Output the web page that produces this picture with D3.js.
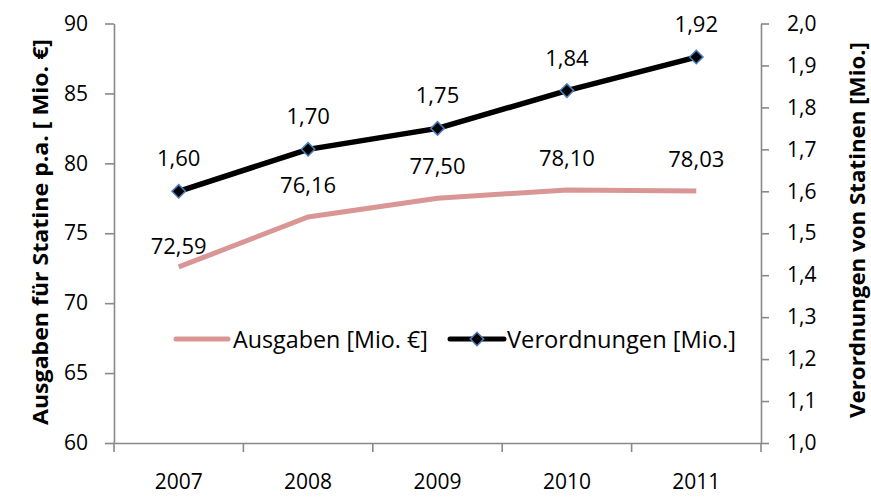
<!DOCTYPE html>
<html>
<head>
<meta charset="utf-8">
<script src="https://cdn.jsdelivr.net/npm/d3@7"></script>
<style>
  body { margin: 0; background: #fff; }
  text { font-family: "Open Sans", sans-serif; }
</style>
</head>
<body>
<div id="chart"></div>
<script>

// ======================= //
// DATA
// ======================= //

var years = ["2007", "2008", "2009", "2010", "2011"]
var ausgaben = [72.59, 76.16, 77.50, 78.10, 78.03]
var verordnungen = [1.60, 1.70, 1.75, 1.84, 1.92]
var leftTicks = [60, 65, 70, 75, 80, 85, 90]
var rightTicks = [1.0, 1.1, 1.2, 1.3, 1.4, 1.5, 1.6, 1.7, 1.8, 1.9, 2.0]
var seriesNames = ["Ausgaben [Mio. €]", "Verordnungen [Mio.]"]

// ======================= //
// SVG, SCALES
// ======================= //

var W = 871, H = 497
var plot = {left: 114, right: 761, top: 23.5, bottom: 443}

var svg = d3.select("#chart")
  .append("svg")
  .attr("width", W)
  .attr("height", H)

var axisGrey = "#898989"
var pink = "#D99694"
var fmt = function(d, n){ return d3.format("." + n + "f")(d).replace(".", ",") }

var x = d3.scaleBand()
  .domain(years)
  .range([plot.left, plot.right])

var yL = d3.scaleLinear()
  .domain([60, 90])
  .range([plot.bottom, plot.top])

var yR = d3.scaleLinear()
  .domain([1, 2])
  .range([plot.bottom, plot.top])

// ======================= //
// AXES
// ======================= //

var leftAxis = svg.append("g")
  .attr("transform", "translate(" + plot.left + ",0)")
  .call(d3.axisLeft(yL).tickValues(leftTicks).tickSize(9).tickPadding(17).tickSizeOuter(0))

var rightAxis = svg.append("g")
  .attr("transform", "translate(" + plot.right + ",0)")
  .call(d3.axisRight(yR).tickValues(rightTicks).tickSize(8).tickPadding(18).tickSizeOuter(0)
    .tickFormat(function(d){ return fmt(d, 1) }))

var bottomAxis = svg.append("g")
  .attr("transform", "translate(0," + plot.bottom + ")")
  .call(d3.axisBottom(x).tickSize(0).tickPadding(31).tickSizeOuter(0))

// tick marks between the categories
var edges = years.map(function(d){ return x(d) }).concat([x(years[years.length-1]) + x.bandwidth()])
bottomAxis.selectAll(".edge")
  .data(edges)
  .enter()
  .append("line")
    .attr("x1", function(d){ return d })
    .attr("x2", function(d){ return d })
    .attr("y1", 0)
    .attr("y2", 9)

;[leftAxis, rightAxis, bottomAxis].forEach(function(g){
  g.selectAll("path, line").style("stroke", axisGrey).style("stroke-width", 1.6)
  g.selectAll("text").style("font-size", "21px").style("fill", "#000")
    .style("font-family", "'Open Sans', sans-serif")
})

// axis titles
svg.append("text")
  .attr("transform", "translate(40,232)rotate(-90)")
  .attr("text-anchor", "middle")
  .attr("dominant-baseline", "central")
  .attr("textLength", 386)
  .attr("lengthAdjust", "spacingAndGlyphs")
  .style("font-size", "21px")
  .style("font-weight", "bold")
  .text("Ausgaben für Statine p.a. [ Mio. €]")

svg.append("text")
  .attr("transform", "translate(857,230)rotate(-90)")
  .attr("text-anchor", "middle")
  .attr("dominant-baseline", "central")
  .attr("textLength", 376)
  .attr("lengthAdjust", "spacingAndGlyphs")
  .style("font-size", "21px")
  .style("font-weight", "bold")
  .text("Verordnungen von Statinen [Mio.]")

// ======================= //
// LINES
// ======================= //

var cx = function(i){ return x(years[i]) + x.bandwidth()/2 }

var lineL = d3.line()
  .x(function(d, i){ return cx(i) })
  .y(function(d){ return yL(d) })

var lineR = d3.line()
  .x(function(d, i){ return cx(i) })
  .y(function(d){ return yR(d) })

svg.append("path")
  .datum(ausgaben)
  .attr("d", lineL)
  .style("fill", "none")
  .style("stroke", pink)
  .style("stroke-width", 5)

svg.append("path")
  .datum(verordnungen)
  .attr("d", lineR)
  .style("fill", "none")
  .style("stroke", "#000")
  .style("stroke-width", 5.5)
  .style("stroke-linejoin", "round")

var diamond = d3.symbol().type(d3.symbolSquare).size(90)

svg.selectAll(".marker")
  .data(verordnungen)
  .enter()
  .append("path")
    .attr("class", "marker")
    .attr("d", diamond)
    .attr("transform", function(d, i){ return "translate(" + cx(i) + "," + yR(d) + ")rotate(45)" })
    .style("fill", "#000")
    .style("stroke", "#4A7EBB")
    .style("stroke-width", 1.5)

// ======================= //
// DATA LABELS
// ======================= //

svg.selectAll(".labR")
  .data(verordnungen)
  .enter()
  .append("text")
    .attr("x", function(d, i){ return cx(i) })
    .attr("y", function(d){ return yR(d) - 34 })
    .attr("text-anchor", "middle")
    .attr("dominant-baseline", "central")
    .style("font-size", "22px")
    .text(function(d){ return fmt(d, 2) })

// first label sits closer to its point (as in the original)
svg.selectAll(".labL")
  .data(ausgaben)
  .enter()
  .append("text")
    .attr("x", function(d, i){ return cx(i) })
    .attr("y", function(d, i){ return yL(d) - (i == 0 ? 22 : 33) })
    .attr("text-anchor", "middle")
    .attr("dominant-baseline", "central")
    .style("font-size", "22px")
    .text(function(d){ return fmt(d, 2) })

// ======================= //
// LEGEND
// ======================= //

var legY = 339
var leg = svg.append("g")

leg.append("line")
  .attr("x1", 176).attr("x2", 228)
  .attr("y1", legY).attr("y2", legY)
  .style("stroke", pink).style("stroke-width", 5).style("stroke-linecap", "round")
leg.append("text")
  .attr("x", 233).attr("y", legY)
  .attr("dominant-baseline", "central")
  .attr("textLength", 195)
  .attr("lengthAdjust", "spacingAndGlyphs")
  .style("font-size", "23px")
  .text(seriesNames[0])

leg.append("line")
  .attr("x1", 450).attr("x2", 504)
  .attr("y1", legY).attr("y2", legY)
  .style("stroke", "#000").style("stroke-width", 5).style("stroke-linecap", "round")
leg.append("path")
  .attr("d", diamond)
  .attr("transform", "translate(477," + legY + ")rotate(45)")
  .style("fill", "#000")
  .style("stroke", "#4A7EBB")
  .style("stroke-width", 1.5)
leg.append("text")
  .attr("x", 507).attr("y", legY)
  .attr("dominant-baseline", "central")
  .attr("textLength", 229)
  .attr("lengthAdjust", "spacingAndGlyphs")
  .style("font-size", "23px")
  .text(seriesNames[1])

</script>
</body>
</html>
